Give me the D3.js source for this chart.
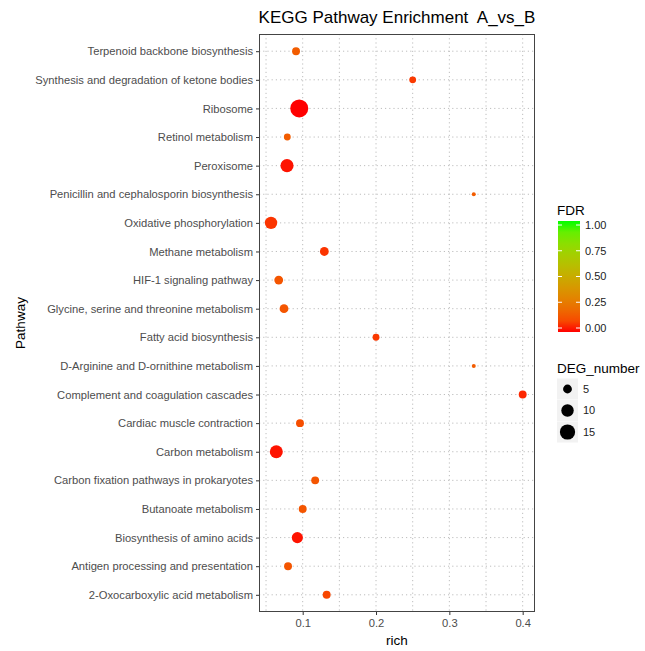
<!DOCTYPE html>
<html><head><meta charset="utf-8">
<script src="https://cdn.jsdelivr.net/npm/d3@7"></script>
<style>body{margin:0;background:#fff}svg{font-family:"Liberation Sans",Arial,Helvetica,sans-serif}</style>
</head><body><svg id="c" width="645" height="651"></svg>
<script>
const pathways = ["Terpenoid backbone biosynthesis","Synthesis and degradation of ketone bodies","Ribosome","Retinol metabolism","Peroxisome","Penicillin and cephalosporin biosynthesis","Oxidative phosphorylation","Methane metabolism","HIF-1 signaling pathway","Glycine, serine and threonine metabolism","Fatty acid biosynthesis","D-Arginine and D-ornithine metabolism","Complement and coagulation cascades","Cardiac muscle contraction","Carbon metabolism","Carbon fixation pathways in prokaryotes","Butanoate metabolism","Biosynthesis of amino acids","Antigen processing and presentation","2-Oxocarboxylic acid metabolism"];
const richValues = [0.0909,0.25,0.0953,0.079,0.0786,0.3333,0.0568,0.1295,0.0673,0.0745,0.2,0.3333,0.4,0.0963,0.064,0.117,0.1,0.0927,0.08,0.1327];
const degNumbers = [4,3,21,3,11,1,10,5,5,5,3,1,4,4,11,4,4,8,4,4];
const fdrValues = [0.15,0.06,0.0,0.15,0.01,0.15,0.05,0.05,0.13,0.13,0.06,0.15,0.03,0.11,0.01,0.13,0.13,0.01,0.13,0.09];
const xTicks = [0.1,0.2,0.3,0.4];
const xMinor = [0.05,0.15,0.25,0.35];
const fdrTicks = [0,0.25,0.5,0.75,1];
const sizeBreaks = [5,10,15];

const svg = d3.select("#c");
const L=259,R=535,T=34,B=612;
const x = d3.scaleLinear().domain([0.0404,0.4168]).range([L,R]);
const y = d3.scalePoint().domain(pathways).range([T+17.2,B-17.2]);
const col = d3.scaleLinear().domain([0,1]).range(["#ff0000","#00ff00"]).interpolate(d3.interpolateLab);
const rs = d3.scaleLinear().domain([1,Math.sqrt(21)]).range([2,9]);
const rad = n => rs(Math.sqrt(n));

// panel
svg.append("rect").attr("x",L).attr("y",T).attr("width",R-L).attr("height",B-T).attr("fill","#fff");
const g = svg.append("g");
const dash = "1.2,3", gc="#bdbdbd";
xMinor.concat(xTicks).forEach(v=>{
  g.append("line").attr("x1",x(v)).attr("x2",x(v)).attr("y1",T).attr("y2",B).attr("stroke",gc).attr("stroke-width",1).attr("stroke-dasharray",dash);
});
pathways.forEach(p=>{
  g.append("line").attr("x1",L).attr("x2",R).attr("y1",y(p)).attr("y2",y(p)).attr("stroke",gc).attr("stroke-width",1).attr("stroke-dasharray",dash);
});
// points
const data = pathways.map((p,i)=>({p,rich:richValues[i],n:degNumbers[i],fdr:fdrValues[i]}));
svg.append("g").selectAll("circle").data(data).join("circle")
  .attr("cx",d=>x(d.rich)).attr("cy",d=>y(d.p)).attr("r",d=>rad(d.n)).attr("fill",d=>col(d.fdr));
// border
svg.append("rect").attr("x",L+0.5).attr("y",T+0.5).attr("width",R-L-1).attr("height",B-T-1).attr("fill","none").attr("stroke","#444").attr("stroke-width",1);

// axes
const xa = svg.append("g").attr("transform",`translate(0,${B})`).call(d3.axisBottom(x).tickValues(xTicks).tickFormat(d3.format(".1f")).tickSize(3).tickPadding(4));
const ya = svg.append("g").attr("transform",`translate(${L},0)`).call(d3.axisLeft(y).tickSize(3).tickPadding(3));
[xa,ya].forEach(a=>{a.select(".domain").remove();a.selectAll(".tick line").attr("stroke","#333");a.selectAll("text").attr("fill","#4d4d4d").style("font-size","11.2px").style("font-family","Liberation Sans, Arial, sans-serif");});

// titles
svg.append("text").attr("x",(L+R)/2).attr("y",23).attr("text-anchor","middle").style("font-size","17px").style("white-space","pre").text("KEGG Pathway Enrichment  A_vs_B");
svg.append("text").attr("x",(L+R)/2).attr("y",645).attr("text-anchor","middle").style("font-size","13.5px").text("rich");
svg.append("text").attr("transform",`translate(25,${(T+B)/2}) rotate(-90)`).attr("text-anchor","middle").style("font-size","13.5px").text("Pathway");

// FDR colorbar
const defs = svg.append("defs");
const grad = defs.append("linearGradient").attr("id","fdrg").attr("x1",0).attr("y1",1).attr("x2",0).attr("y2",0);
d3.range(0,1.0001,0.1).forEach(t=>grad.append("stop").attr("offset",t).attr("stop-color",col(t)));
const cbX=558, cbW=22, cbTop=221, cbBot=332;
const cy = d3.scaleLinear().domain([0,1]).range([cbBot-4,cbTop+4]);
svg.append("text").attr("x",557).attr("y",215).style("font-size","13.5px").text("FDR");
svg.append("rect").attr("x",cbX).attr("y",cbTop).attr("width",cbW).attr("height",cbBot-cbTop).attr("fill","url(#fdrg)");
fdrTicks.forEach(t=>{
  svg.append("line").attr("x1",cbX).attr("x2",cbX+4).attr("y1",cy(t)).attr("y2",cy(t)).attr("stroke","#fff");
  svg.append("line").attr("x1",cbX+cbW-4).attr("x2",cbX+cbW).attr("y1",cy(t)).attr("y2",cy(t)).attr("stroke","#fff");
  svg.append("text").attr("x",585).attr("y",cy(t)).attr("dy","0.35em").style("font-size","11px").attr("fill","#222").text(d3.format(".2f")(t));
});

// size legend
svg.append("text").attr("x",557).attr("y",373).style("font-size","13.5px").text("DEG_number");
sizeBreaks.forEach((n,i)=>{
  const yc = 389 + i*21.5;
  svg.append("rect").attr("x",557).attr("y",yc-10.5).attr("width",21).attr("height",21).attr("fill","#f2f2f2");
  svg.append("circle").attr("cx",567.5).attr("cy",yc).attr("r",rad(n)).attr("fill","#000");
  svg.append("text").attr("x",583).attr("y",yc).attr("dy","0.35em").style("font-size","11px").attr("fill","#222").text(n);
});
</script></body></html>
